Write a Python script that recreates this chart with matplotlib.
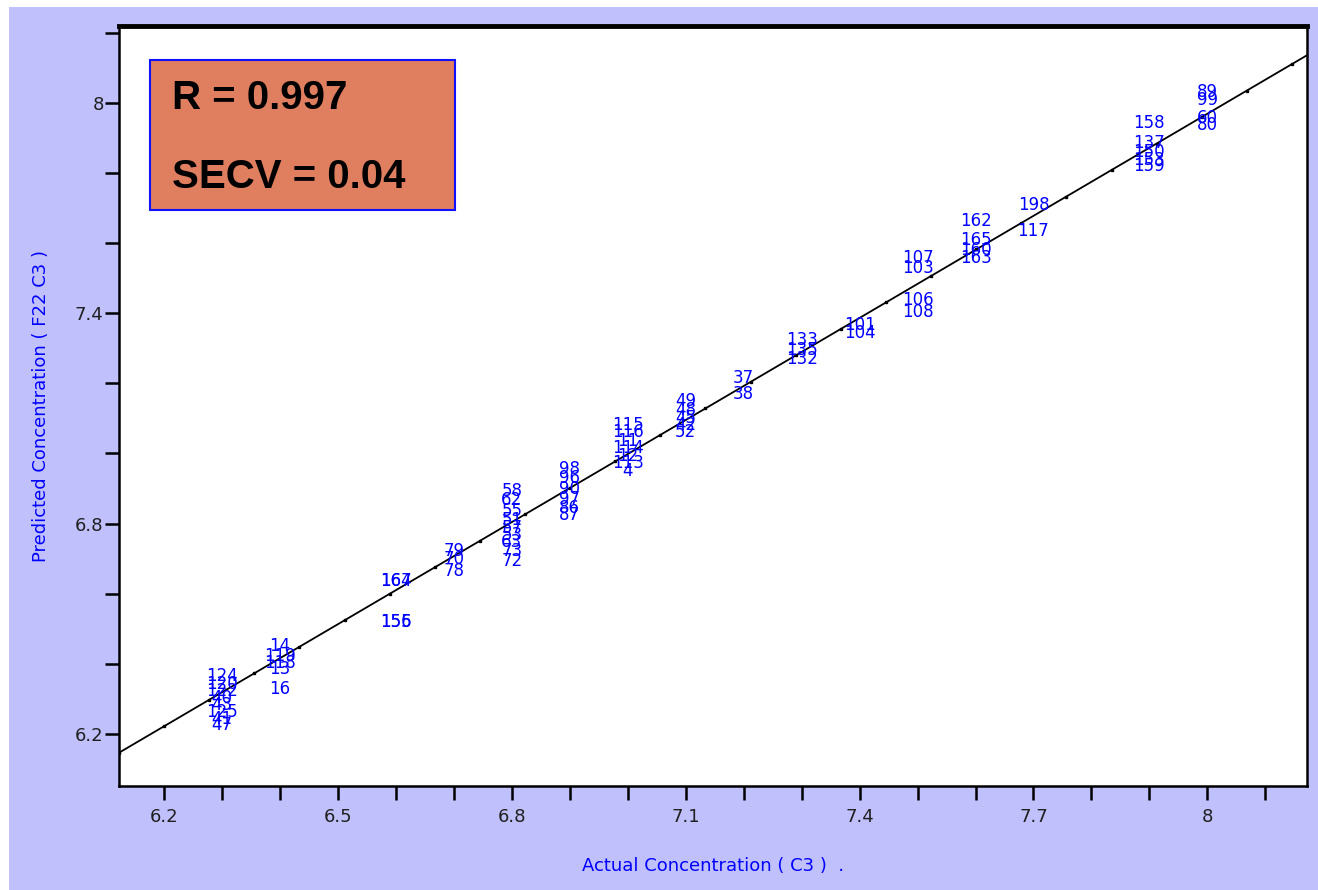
import numpy as np
import matplotlib.pyplot as plt
from matplotlib.patches import Rectangle

# actual vs predicted C3 concentration, one label per sample
actual = [6.3, 6.3, 6.3, 6.3, 6.3, 6.3, 6.3, 6.3,
          6.4, 6.4, 6.4, 6.4, 6.4,
          6.6, 6.6, 6.6, 6.6,
          6.7, 6.7, 6.7,
          6.8, 6.8, 6.8, 6.8, 6.8, 6.8, 6.8, 6.8, 6.8,
          6.9, 6.9, 6.9, 6.9, 6.9, 6.9,
          7.0, 7.0, 7.0, 7.0, 7.0, 7.0, 7.0,
          7.1, 7.1, 7.1, 7.1, 7.1,
          7.2, 7.2,
          7.3, 7.3, 7.3,
          7.4, 7.4,
          7.5, 7.5, 7.5, 7.5,
          7.6, 7.6, 7.6, 7.6,
          7.7, 7.7,
          7.9, 7.9, 7.9, 7.9, 7.9,
          8.0, 8.0, 8.0, 8.0]
predicted = [6.366, 6.343, 6.323, 6.303, 6.283, 6.263, 6.243, 6.226,
             6.451, 6.423, 6.403, 6.386, 6.329,
             6.637, 6.637, 6.52, 6.52,
             6.723, 6.700, 6.666,
             6.894, 6.866, 6.837, 6.809, 6.786, 6.766, 6.746, 6.723, 6.694,
             6.957, 6.929, 6.900, 6.871, 6.843, 6.823,
             7.080, 7.060, 7.037, 7.017, 6.994, 6.974, 6.951,
             7.151, 7.123, 7.100, 7.080, 7.060,
             7.214, 7.171,
             7.323, 7.294, 7.271,
             7.366, 7.343,
             7.557, 7.529, 7.437, 7.403,
             7.663, 7.609, 7.580, 7.557,
             7.709, 7.634,
             7.943, 7.886, 7.860, 7.837, 7.820,
             8.031, 8.009, 7.957, 7.937]
samples = ["124", "120", "122", "40", "43", "125", "41", "47",
           "14", "119", "118", "13", "16",
           "167", "164", "155", "156",
           "79", "70", "78",
           "58", "62", "55", "51", "57", "53", "63", "73", "72",
           "98", "96", "90", "97", "86", "87",
           "115", "116", "11", "114", "12", "113", "4",
           "49", "48", "45", "42", "52",
           "37", "38",
           "133", "135", "132",
           "101", "104",
           "107", "103", "106", "108",
           "162", "165", "160", "163",
           "198", "117",
           "158", "137", "150", "153", "159",
           "89", "99", "60", "80"]

fit_slope = 0.971
fit_intercept = 0.2015

x_ticks = [6.2, 6.5, 6.8, 7.1, 7.4, 7.7, 8.0]
x_labels = ["6.2", "6.5", "6.8", "7.1", "7.4", "7.7", "8"]
y_ticks = [6.2, 6.8, 7.4, 8.0]
y_labels = ["6.2", "6.8", "7.4", "8"]

W, H = 1318, 890
fig = plt.figure(figsize=(W / 100, H / 100), dpi=100, facecolor="white")
fig.patches.append(Rectangle((9 / W, 0), 1 - 9 / W, 1 - 7 / H, transform=fig.transFigure,
                             facecolor="#c0c0fc", edgecolor="none", zorder=-10))

ax = fig.add_axes([119 / W, 1 - 786 / H, (1307 - 119) / W, (786 - 26) / H])
ax.set_facecolor("white")
ax.set_xlim(6.122, 8.172)
ax.set_ylim(6.051, 8.22)

xs = np.linspace(6.122, 8.172, 80)
ax.plot(xs, fit_intercept + fit_slope * xs, color="black", lw=1.3,
        marker="s", markersize=2, markevery=3)

for a, p, s in zip(actual, predicted, samples):
    ax.text(a, p, s, color="#0000ff", fontsize=12, ha="center", va="center")

# stats box
ax.add_patch(Rectangle((0.026, 0.758), 0.257, 0.197, transform=ax.transAxes,
                       facecolor="#e07f5f", edgecolor="#1010ff", lw=1.5, zorder=5))
ax.text(0.0447, 0.905, "R = 0.997", transform=ax.transAxes, fontsize=29,
        fontweight="bold", family="Liberation Sans", va="center", zorder=6)
ax.text(0.0447, 0.801, "SECV = 0.04", transform=ax.transAxes, fontsize=29,
        fontweight="bold", family="Liberation Sans", va="center", zorder=6)

ax.set_xticks(x_ticks)
ax.set_xticklabels(x_labels)
ax.set_xticks(np.arange(6.2, 8.15, 0.1), minor=True)
ax.set_yticks(y_ticks)
ax.set_yticklabels(y_labels)
ax.set_yticks(np.arange(6.2, 8.25, 0.2), minor=True)
ax.tick_params(which="both", direction="out", length=10, width=1.8, color="black")
ax.tick_params(axis="both", labelsize=13, labelcolor="#202020")
ax.tick_params(axis="x", pad=6)
ax.tick_params(axis="y", pad=1)

for side in ["left", "bottom", "right"]:
    ax.spines[side].set_linewidth(1.8)
ax.spines["top"].set_linewidth(3.5)

ax.set_xlabel("Actual Concentration ( C3 )  .", color="#0000ff", fontsize=13, labelpad=22)
ax.set_ylabel("Predicted Concentration ( F22 C3 )", color="#0000ff", fontsize=13, labelpad=18)

fig.savefig("out.png", dpi=100, facecolor=fig.get_facecolor())
